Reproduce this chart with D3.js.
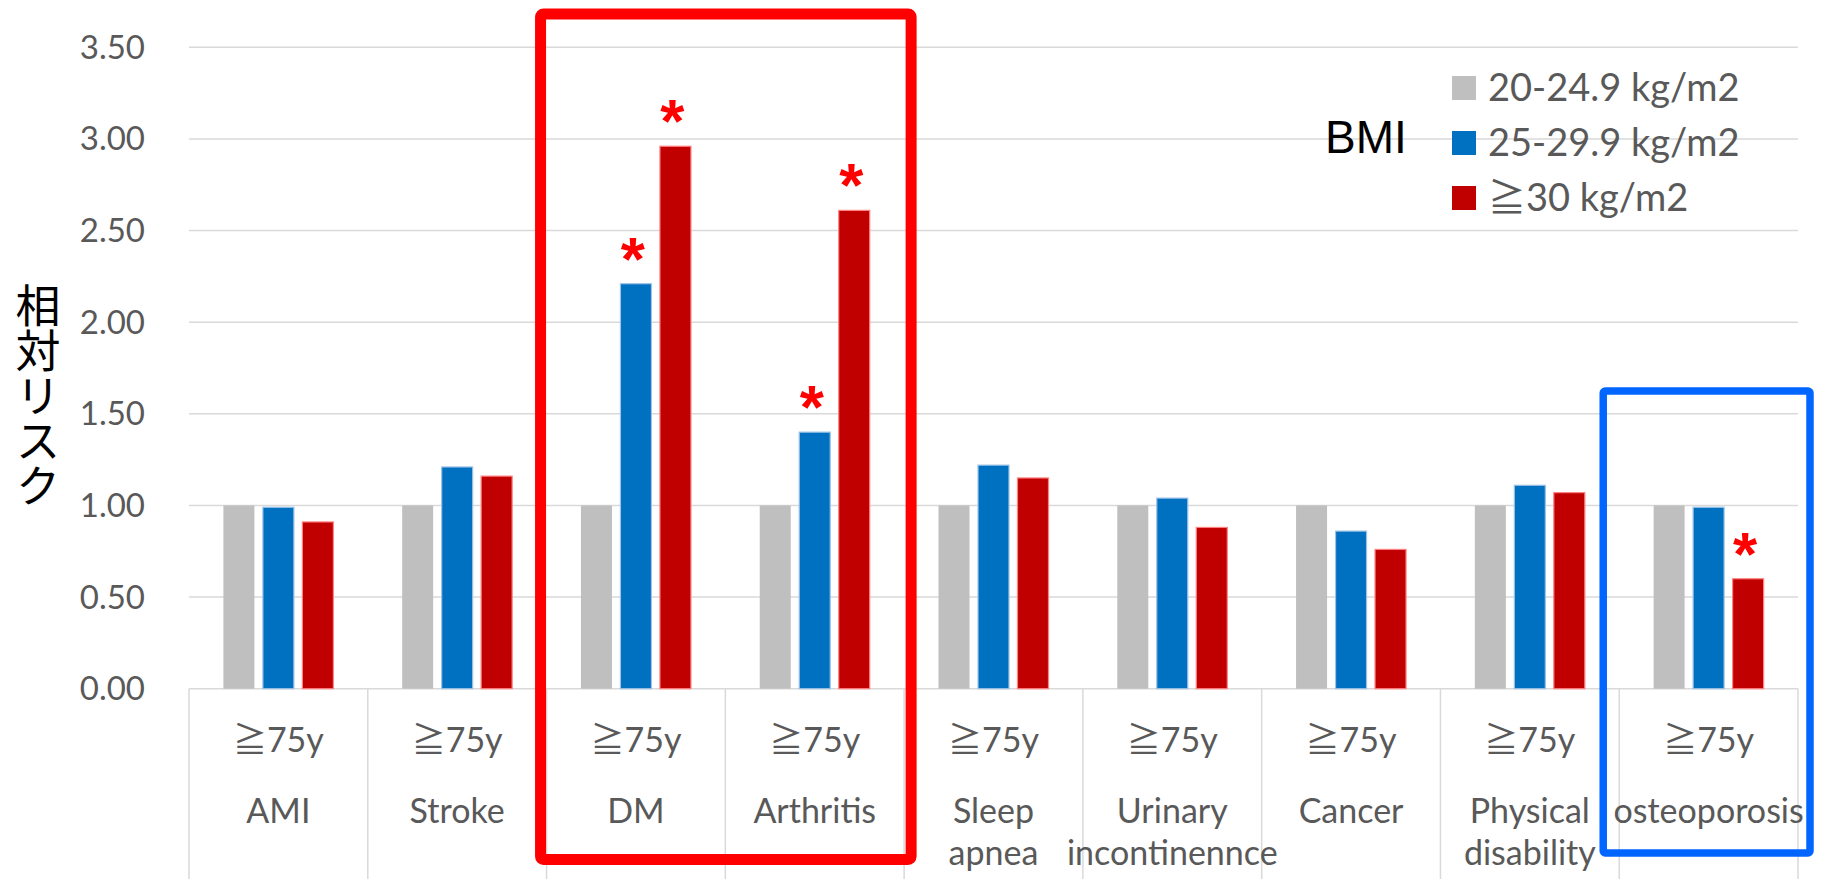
<!DOCTYPE html>
<html>
<head>
<meta charset="utf-8">
<script src="https://cdn.jsdelivr.net/npm/d3@7"></script>
<style>
  body { margin: 0; background: #fff; }
  svg { display: block; }
</style>
</head>
<body>
<div id="chart"></div>
<script>
// categories and values
const categories = ["AMI", "Stroke", "DM", "Arthritis", "Sleep apnea", "Urinary incontinennce", "Cancer", "Physical disability", "osteoporosis"];
const categoryLines = [["AMI"], ["Stroke"], ["DM"], ["Arthritis"], ["Sleep", "apnea"], ["Urinary", "incontinennce"], ["Cancer"], ["Physical", "disability"], ["osteoporosis"]];
const ageLabel = "≧75y";
const seriesNames = ["20-24.9 kg/m2", "25-29.9 kg/m2", "≧30 kg/m2"];
const normalValues = [1.00, 1.00, 1.00, 1.00, 1.00, 1.00, 1.00, 1.00, 1.00];
const overweightValues = [0.99, 1.21, 2.21, 1.40, 1.22, 1.04, 0.86, 1.11, 0.99];
const obeseValues = [0.91, 1.16, 2.96, 2.61, 1.15, 0.88, 0.76, 1.07, 0.60];
const overweightSig = [false, false, true, true, false, false, false, false, false];
const obeseSig = [false, false, true, true, false, false, false, false, true];
const yTicks = [0, 0.5, 1.0, 1.5, 2.0, 2.5, 3.0, 3.5];
const yTitle = "相対リスク";
const legendTitle = "BMI";

const colors = ["#bfbfbf", "#0070c0", "#c00000"];
const edgeColors = [null, "#9dc3e6", "#ff8080"];

const width = 1822, height = 879;
const margin = {top: 47, right: 24, bottom: 190, left: 189};
const font = "Lato, 'Noto Sans CJK JP', sans-serif";
const textColor = "#595959";
const gridColor = "#d9d9d9";

const svg = d3.select("#chart").append("svg")
    .attr("width", width)
    .attr("height", height);

const x0 = d3.scaleBand()
    .domain(categories)
    .range([margin.left, width - margin.right])
    .paddingInner(0)
    .paddingOuter(0);

const x1 = d3.scaleBand()
    .domain([0, 1, 2])
    .range([0, x0.bandwidth()])
    .paddingInner(0.215)
    .paddingOuter(0.871);

const y = d3.scaleLinear()
    .domain([0, 3.5])
    .range([height - margin.bottom - 0.3, margin.top + 0.3]);

const rows = categories.map((c, i) => ({
    category: c,
    lines: categoryLines[i],
    values: [normalValues[i], overweightValues[i], obeseValues[i]],
    sig: [false, overweightSig[i], obeseSig[i]]
}));

// gridlines
svg.append("g").selectAll("line")
    .data(yTicks)
    .join("line")
    .attr("x1", x0.range()[0])
    .attr("x2", x0.range()[1])
    .attr("y1", d => y(d))
    .attr("y2", d => y(d))
    .attr("stroke", gridColor)
    .attr("stroke-width", 1.5);

// y tick labels
svg.append("g").selectAll("text")
    .data(yTicks)
    .join("text")
    .attr("x", 145)
    .attr("y", d => y(d) + 11.5)
    .attr("text-anchor", "end")
    .attr("font-family", font)
    .attr("font-size", 33)
    .attr("fill", textColor)
    .text(d => d3.format(".2f")(d));

// y axis title
svg.append("text")
    .attr("x", 38)
    .attr("y", 396)
    .attr("writing-mode", "vertical-rl")
    .attr("text-orientation", "upright")
    .attr("text-anchor", "middle")
    .attr("font-family", "'Noto Sans CJK JP', sans-serif")
    .attr("font-size", 45)
    .attr("fill", "#000")
    .text(yTitle);

// category separators below the axis
const bounds = categories.map(c => x0(c)).concat([x0.range()[1]]);
svg.append("g").selectAll("line")
    .data(bounds)
    .join("line")
    .attr("x1", d => d)
    .attr("x2", d => d)
    .attr("y1", y(0))
    .attr("y2", height)
    .attr("stroke", gridColor)
    .attr("stroke-width", 1.5);

// bars
const groups = svg.append("g").selectAll("g")
    .data(rows)
    .join("g")
    .attr("transform", d => `translate(${x0(d.category)},0)`);

groups.selectAll("rect")
    .data(d => d.values.map((v, k) => ({k, v})))
    .join("rect")
    .attr("x", d => x1(d.k))
    .attr("y", d => y(d.v))
    .attr("width", x1.bandwidth())
    .attr("height", d => y(0) - y(d.v))
    .attr("fill", d => colors[d.k])
    .attr("stroke", d => edgeColors[d.k] || "none")
    .attr("stroke-width", 1.2);

// significance marks
groups.selectAll("text.sig")
    .data(d => d.values.map((v, k) => ({k, v, s: d.sig[k]})).filter(d => d.s))
    .join("text")
    .attr("class", "sig")
    .attr("x", d => x1(d.k) + x1.bandwidth() / 2 - 3)
    .attr("y", d => y(d.v) - 4)
    .attr("text-anchor", "middle")
    .attr("font-family", "'Liberation Sans', Arial, sans-serif")
    .attr("font-weight", "bold")
    .attr("font-size", 62)
    .attr("fill", "#ff0000")
    .text("*");

// category labels
const labels = svg.append("g").selectAll("g")
    .data(rows)
    .join("g")
    .attr("transform", d => `translate(${x0(d.category) + x0.bandwidth() / 2},0)`)
    .attr("font-family", font)
    .attr("font-size", 34)
    .attr("fill", textColor)
    .attr("text-anchor", "middle");

labels.append("text")
    .attr("y", 752)
    .text(ageLabel);

labels.selectAll("text.name")
    .data(d => d.lines)
    .join("text")
    .attr("class", "name")
    .attr("y", (d, i) => 823 + i * 42)
    .text(d => d);

// highlight boxes
svg.append("rect")
    .attr("x", x0("DM") - 6)
    .attr("y", 14)
    .attr("width", x0("Arthritis") + x0.bandwidth() + 7 - (x0("DM") - 6))
    .attr("height", 859.5 - 14)
    .attr("rx", 3)
    .attr("fill", "none")
    .attr("stroke", "#ff0000")
    .attr("stroke-width", 11);

svg.append("rect")
    .attr("x", x0("osteoporosis") - 16)
    .attr("y", 391)
    .attr("width", x0.range()[1] + 12 - (x0("osteoporosis") - 16))
    .attr("height", 853 - 391)
    .attr("rx", 2)
    .attr("fill", "none")
    .attr("stroke", "#0066ff")
    .attr("stroke-width", 7.5);

// legend
svg.append("text")
    .attr("x", 1325)
    .attr("y", 153)
    .attr("font-family", "'Liberation Sans', Arial, sans-serif")
    .attr("font-size", 46)
    .attr("fill", "#000")
    .text(legendTitle);

const legend = svg.append("g").selectAll("g")
    .data(seriesNames)
    .join("g")
    .attr("transform", (d, i) => `translate(1452,${88 + i * 55})`);

legend.append("rect")
    .attr("x", 0)
    .attr("y", -12)
    .attr("width", 24)
    .attr("height", 24)
    .attr("fill", (d, i) => colors[i]);

legend.append("text")
    .attr("x", 36)
    .attr("y", 13)
    .attr("font-family", font)
    .attr("font-size", 38)
    .attr("fill", textColor)
    .text(d => d);
</script>
</body>
</html>
